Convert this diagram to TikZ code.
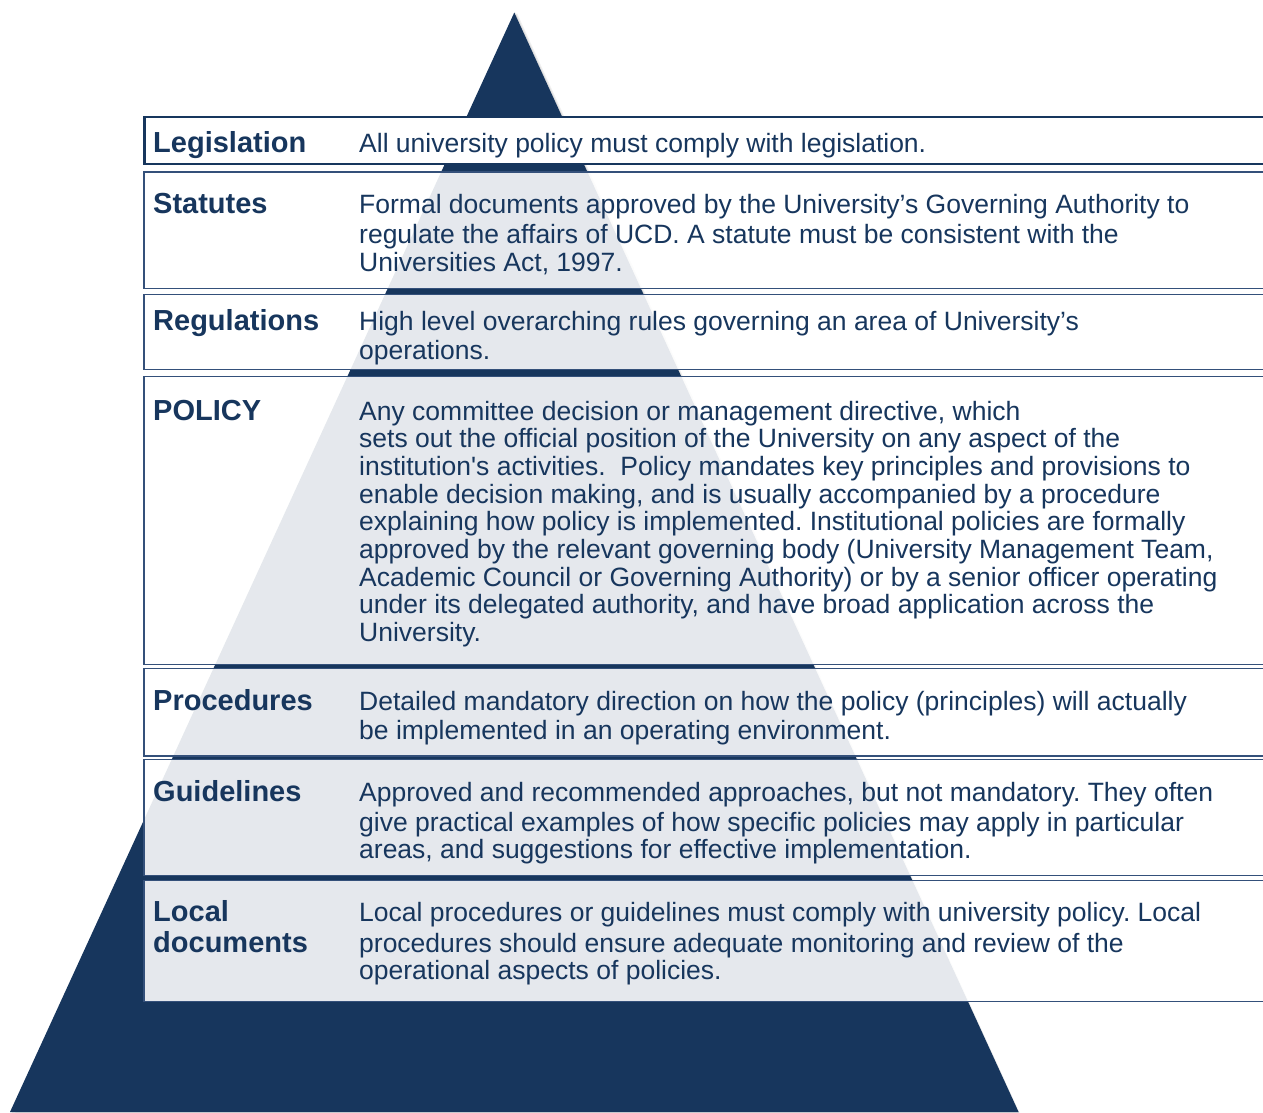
\documentclass[tikz,border=0pt]{standalone}
\usepackage{fontspec}
\setmainfont{Liberation Sans}
\definecolor{navy}{HTML}{17365D}
\definecolor{rule}{HTML}{34507A}
\frenchspacing
\begin{document}
\begin{tikzpicture}[x=1pt,y=-1pt,
  boxst/.style={fill=white,fill opacity=0.89,draw=rule,line width=1.6pt},
  lab/.style={anchor=base west,inner sep=0pt,text=navy,font=\fontsize{29}{33}\selectfont\bfseries},
  desc/.style={anchor=base west,inner sep=0pt,text=navy,font=\fontsize{26.5}{30}\selectfont\frenchspacing}]
\useasboundingbox (0,0) rectangle (1263,1112);
\clip (0,0) rectangle (1263,1112);
% shadow and triangle
\fill[black,opacity=0.06] (517,13) -- (1023,1120) -- (12,1120) -- cycle;
\fill[black,opacity=0.08] (515.5,12.5) -- (1020.5,1116) -- (10.5,1116) -- cycle;
\fill[navy] (514.3,12.5) -- (1018.6,1112) -- (10,1112) -- cycle;
% boxes
\path[fill=white,draw=navy,line width=2.8pt] (144.5,117) rectangle (1290,164);
\path[boxst] (144,172) rectangle (1290,288.5);
\path[boxst] (144,294.5) rectangle (1290,369.5);
\path[boxst] (144,376.5) rectangle (1290,664.5);
\path[boxst] (144,668.5) rectangle (1290,756);
\path[boxst] (144,759.5) rectangle (1290,875.5);
\path[boxst] (144,880.5) rectangle (1290,1001.5);
% labels
\node[lab] (lLeg) at (153,152) {Legislation};
\node[lab] (lSta) at (153,213.3) {Statutes};
\node[lab] (lReg) at (153,330) {Regulations};
\node[lab] (lPol) at (153,420) {POLICY};
\node[lab] (lPro) at (153,710) {Procedures};
\node[lab] (lGui) at (153,801) {Guidelines};
\node[lab] (lLoc1) at (153,921) {Local};
\node[lab] (lLoc2) at (153,952) {documents};
% descriptions
\node[desc] (dLeg) at (359,152) {All university policy must comply with legislation.};
\node[desc] (dSta1) at (359,213.3) {Formal documents approved by the University’s Governing Authority to};
\node[desc] (dSta2) at (359,243.3) {regulate the affairs of UCD. A statute must be consistent with the};
\node[desc] (dSta3) at (359,271.7) {Universities Act, 1997.};
\node[desc] (dReg1) at (359,330) {High level overarching rules governing an area of University’s};
\node[desc] (dReg2) at (359,359.3) {operations.};
\node[desc] (dPol1) at (359,420) {Any committee decision or management directive, which};
\node[desc] (dPol2) at (359,447.7) {sets out the official position of the University on any aspect of the};
\node[desc] (dPol3) at (359,475.4) {institution\textquotesingle s activities.\ \ Policy mandates key principles and provisions to};
\node[desc] (dPol4) at (359,503.1) {enable decision making, and is usually accompanied by a procedure};
\node[desc] (dPol5) at (359,530.8) {explaining how policy is implemented. Institutional policies are formally};
\node[desc] (dPol6) at (359,558.5) {approved by the relevant governing body (University Management Team,};
\node[desc] (dPol7) at (359,586.2) {Academic Council or Governing Authority) or by a senior officer operating};
\node[desc] (dPol8) at (359,613.9) {under its delegated authority, and have broad application across the};
\node[desc] (dPol9) at (359,641.6) {University.};
\node[desc] (dPro1) at (359,710) {Detailed mandatory direction on how the policy (principles) will actually};
\node[desc] (dPro2) at (359,739.3) {be implemented in an operating environment.};
\node[desc] (dGui1) at (359,801) {Approved and recommended approaches, but not mandatory. They often};
\node[desc] (dGui2) at (359,831) {give practical examples of how specific policies may apply in particular};
\node[desc] (dGui3) at (359,858.5) {areas, and suggestions for effective implementation.};
\node[desc] (dLoc1) at (359,921) {Local procedures or guidelines must comply with university policy. Local};
\node[desc] (dLoc2) at (359,952) {procedures should ensure adequate monitoring and review of the};
\node[desc] (dLoc3) at (359,979) {operational aspects of policies.};
\end{tikzpicture}
\end{document}
